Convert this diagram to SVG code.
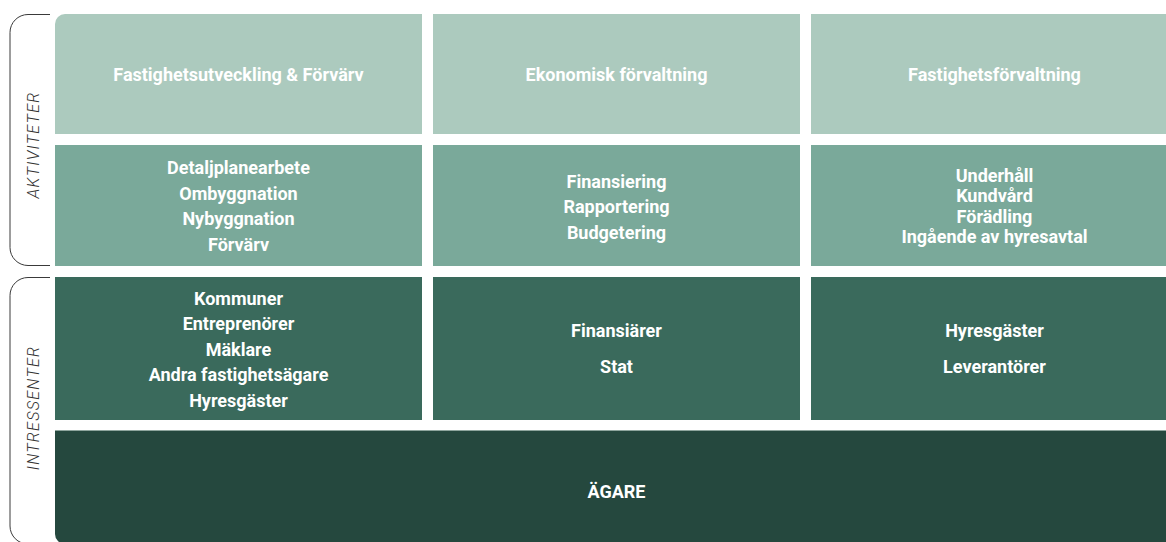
<svg xmlns="http://www.w3.org/2000/svg" width="1166" height="542" viewBox="0 0 1166 542">
  <style>
    .t { font-family: Roboto, "Liberation Sans", sans-serif; font-weight: 700; font-size: 18px; fill: #ffffff; text-anchor: middle; }
    .lbl { font-family: Roboto, "Liberation Sans", sans-serif; font-weight: 300; font-style: italic; font-size: 16px; fill: #333333; text-anchor: middle; letter-spacing: 1.3px; }
    .brk { fill: none; stroke: #3a3a3a; stroke-width: 1; }
    .r1 { fill: #accabe; }
    .r2 { fill: #7aa99a; }
    .r3 { fill: #3a6a5c; }
    .r4 { fill: #25483e; }
  </style>
  <defs>
    <clipPath id="grid">
      <rect x="55" y="14" width="1123" height="530" rx="10" ry="10"/>
    </clipPath>
  </defs>
  <rect width="1166" height="542" fill="#ffffff"/>

  <!-- side brackets and labels -->
  <g id="bracket-aktiviteter">
    <path class="brk" d="M50,14.5 H28 A18,18 0 0 0 10,32.5 V247.5 A18,18 0 0 0 28,265.5 H50"/>
    <text class="lbl" transform="translate(39,145) rotate(-90)">AKTIVITETER</text>
  </g>
  <g id="bracket-intressenter">
    <path class="brk" d="M50,277.5 H28 A18,18 0 0 0 10,295.5 V526 A18,18 0 0 0 28,544 H50"/>
    <text class="lbl" transform="translate(39,408) rotate(-90)">INTRESSENTER</text>
  </g>

  <g clip-path="url(#grid)">
    <!-- row 1: areas -->
    <g id="area-utveckling">
      <rect class="r1" x="55" y="14" width="367" height="120"/>
      <text class="t" x="238.5" y="81">Fastighetsutveckling &amp; Förvärv</text>
    </g>
    <g id="area-ekonomi">
      <rect class="r1" x="433" y="14" width="367" height="120"/>
      <text class="t" x="616.5" y="81">Ekonomisk förvaltning</text>
    </g>
    <g id="area-forvaltning">
      <rect class="r1" x="811" y="14" width="367" height="120"/>
      <text class="t" x="994.5" y="81">Fastighetsförvaltning</text>
    </g>

    <!-- row 2: activities -->
    <g id="act-utveckling">
      <rect class="r2" x="55" y="145" width="367" height="121"/>
      <text class="t" x="238.5" y="174">Detaljplanearbete</text>
      <text class="t" x="238.5" y="199.5">Ombyggnation</text>
      <text class="t" x="238.5" y="225">Nybyggnation</text>
      <text class="t" x="238.5" y="250.5">Förvärv</text>
    </g>
    <g id="act-ekonomi">
      <rect class="r2" x="433" y="145" width="367" height="121"/>
      <text class="t" x="616.5" y="187.5">Finansiering</text>
      <text class="t" x="616.5" y="213">Rapportering</text>
      <text class="t" x="616.5" y="238.5">Budgetering</text>
    </g>
    <g id="act-forvaltning">
      <rect class="r2" x="811" y="145" width="367" height="121"/>
      <text class="t" x="994.5" y="181.5">Underhåll</text>
      <text class="t" x="994.5" y="202">Kundvård</text>
      <text class="t" x="994.5" y="222.5">Förädling</text>
      <text class="t" x="994.5" y="243">Ingående av hyresavtal</text>
    </g>

    <!-- row 3: stakeholders -->
    <g id="int-utveckling">
      <rect class="r3" x="55" y="277" width="367" height="143"/>
      <text class="t" x="238.5" y="304.5">Kommuner</text>
      <text class="t" x="238.5" y="330">Entreprenörer</text>
      <text class="t" x="238.5" y="355.5">Mäklare</text>
      <text class="t" x="238.5" y="381">Andra fastighetsägare</text>
      <text class="t" x="238.5" y="406.5">Hyresgäster</text>
    </g>
    <g id="int-ekonomi">
      <rect class="r3" x="433" y="277" width="367" height="143"/>
      <text class="t" x="616.5" y="337">Finansiärer</text>
      <text class="t" x="616.5" y="373">Stat</text>
    </g>
    <g id="int-forvaltning">
      <rect class="r3" x="811" y="277" width="367" height="143"/>
      <text class="t" x="994.5" y="337">Hyresgäster</text>
      <text class="t" x="994.5" y="373">Leverantörer</text>
    </g>

    <!-- row 4: owner -->
    <g id="agare">
      <rect class="r4" x="55" y="430" width="1123" height="114"/>
      <line x1="55" y1="430.5" x2="1178" y2="430.5" stroke="#8fa69e" stroke-width="1"/>
      <text class="t" x="616.5" y="497.5">ÄGARE</text>
    </g>
  </g>

  <!-- no connectors in this diagram -->
  <g id="connectors"/>
</svg>
